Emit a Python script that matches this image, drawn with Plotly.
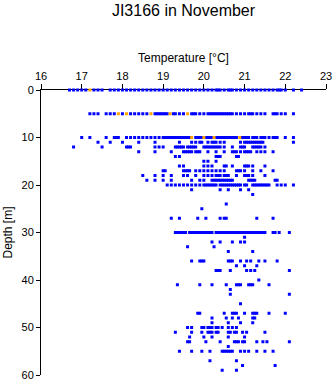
import plotly.graph_objects as go

# Temperature readings (°C) per depth (m)
t_d00 = [16.7, 16.8, 16.9, 17.0, 17.1, 17.3, 17.4, 17.5, 17.7, 17.8, 17.9, 18.0, 18.1, 18.2, 18.3, 18.4,
         18.5, 18.6, 18.7, 18.8, 18.9, 19.0, 19.1, 19.2, 19.3, 19.4, 19.5, 19.6, 19.7, 19.8, 19.9, 20.0,
         20.1, 20.2, 20.3, 20.35, 20.4, 20.5, 20.6, 20.65, 20.7, 20.8, 20.9, 21.0, 21.1, 21.2, 21.3, 21.4,
         21.5, 21.6, 21.7, 21.8, 21.85, 21.9, 22.0, 22.2, 22.4]
t_d05 = [17.2, 17.3, 17.4, 17.6, 17.7, 17.8, 18.0, 18.2, 18.3, 18.4, 18.5, 18.6, 18.8, 18.85, 18.9, 18.95,
         19.0, 19.05, 19.1, 19.25, 19.3, 19.4, 19.5, 19.7, 19.75, 19.8, 19.9, 20.0, 20.1, 20.15, 20.2, 20.25,
         20.3, 20.35, 20.4, 20.45, 20.5, 20.55, 20.6, 20.65, 20.7, 20.8, 20.9, 21.0, 21.1, 21.15, 21.2, 21.3,
         21.4, 21.5, 21.7, 21.75, 21.8, 21.9, 22.0, 22.2]
t_d10 = [17.0, 17.2, 17.6, 17.8, 17.85, 17.9, 18.1, 18.2, 18.3, 18.4, 18.5, 18.6, 18.7, 18.8, 18.9, 19.0,
         19.05, 19.1, 19.15, 19.2, 19.25, 19.3, 19.35, 19.4, 19.45, 19.5, 19.55, 19.6, 19.65, 19.8, 19.85,
         19.9, 19.95, 20.05, 20.1, 20.15, 20.2, 20.3, 20.35, 20.4, 20.45, 20.5, 20.55, 20.6, 20.65, 20.7,
         20.75, 20.8, 20.95, 21.0, 21.05, 21.1, 21.2, 21.25, 21.3, 21.4, 21.45, 21.5, 21.6, 21.7, 21.75,
         21.8, 22.0, 22.2]
t_d11 = [17.4, 17.7, 18.0, 18.4, 18.8, 19.4, 19.7, 19.8, 19.9, 19.95, 20.1, 20.2, 20.25, 20.3, 20.4, 20.5,
         20.9, 21.0, 21.05, 21.1, 21.15, 21.2, 21.25, 21.3, 21.35, 21.4, 21.45, 22.2]
t_d12 = [16.8, 17.5, 18.1, 18.15, 18.2, 18.8, 18.9, 19.0, 19.3, 19.35, 19.4, 19.45, 19.5, 19.6, 19.65,
         19.7, 19.75, 19.8, 20.0, 20.05, 20.1, 20.15, 20.2, 20.25, 20.3, 20.35, 20.4, 20.5, 20.7, 20.9,
         20.95, 21.0, 21.2, 21.25, 21.3, 21.35, 21.4, 21.5]
t_d13 = [18.4, 18.8, 19.2, 19.5, 19.55, 19.6, 19.65, 19.7, 19.8, 19.85, 19.9, 20.1, 20.3, 20.5, 20.7,
         20.75, 20.8, 20.9, 21.0, 21.05, 21.1, 21.15, 21.3, 21.4, 21.5, 21.7]
t_d14 = [19.3, 19.4, 20.3, 20.35, 20.4, 20.8, 20.85]
t_d15 = [20.0, 20.1, 20.3]
t_d16 = [19.4, 19.5, 20.0, 20.1, 20.2, 20.5, 20.55, 20.7, 21.0, 21.05, 21.1, 21.2, 21.5]
t_d17 = [19.0, 19.05, 19.5, 19.55, 19.6, 19.65, 19.8, 19.9, 20.0, 20.1, 20.2, 20.3, 20.4, 20.5, 20.8,
         20.85, 20.9, 21.0, 21.2, 21.4, 21.7]
t_d18 = [18.5, 18.8, 19.0, 19.2, 19.5, 19.6, 19.8, 20.0, 20.1, 20.2, 20.3, 20.35, 20.4, 20.5, 20.55,
         20.6, 20.8, 21.0, 21.05, 21.1, 21.2, 21.5]
t_d19 = [18.6, 18.8, 19.0, 19.2, 19.7, 19.9, 20.0, 20.2, 20.25, 20.3, 20.35, 20.4, 20.45, 20.5, 20.55,
         20.6, 20.65, 20.7, 21.1, 21.15, 21.2, 21.25, 21.75, 21.8]
t_d20 = [19.1, 19.2, 19.3, 19.4, 19.5, 19.6, 19.7, 19.8, 19.9, 20.0, 20.05, 20.1, 20.15, 20.2, 20.25,
         20.3, 20.4, 20.45, 20.5, 20.55, 20.6, 20.65, 20.7, 20.75, 20.8, 20.85, 20.9, 21.0, 21.05, 21.2,
         21.25, 21.3, 21.35, 21.4, 21.45, 21.5, 21.55, 21.6, 21.8, 21.9, 22.0, 22.2]
t_d21 = [19.7, 20.4, 20.6, 20.9, 21.1]
t_d22 = [21.2]
t_d24 = [20.55]
t_d25 = [19.95]
t_d27 = [19.2, 19.4, 19.85, 20.05, 20.4, 20.5, 20.55, 21.3, 21.7]
t_d30 = [19.3, 19.35, 19.4, 19.45, 19.5, 19.55, 19.65, 19.7, 19.75, 19.8, 19.85, 19.9, 19.95, 20.0,
         20.05, 20.1, 20.15, 20.2, 20.3, 20.35, 20.4, 20.45, 20.5, 20.55, 20.6, 20.65, 20.7, 20.75, 20.8,
         20.85, 20.9, 20.95, 21.0, 21.05, 21.1, 21.15, 21.2, 21.25, 21.3, 21.35, 21.4, 21.45, 21.5, 21.7,
         21.75, 21.85, 22.1]
t_d31 = [21.0]
t_d32 = [20.2, 20.4, 20.7, 20.9, 21.0]
t_d33 = [19.6, 20.25]
t_d34 = [20.6, 21.2]
t_d36 = [19.7, 19.9, 19.95, 20.0, 20.6, 20.65, 20.7, 20.9, 21.05, 21.15, 21.35, 21.5, 21.8]
t_d37 = [20.8, 21.0, 21.3]
t_d38 = [20.3, 20.35, 20.4, 20.65, 21.05, 21.15, 21.25, 22.1]
t_d40 = [21.35]
t_d41 = [19.35, 19.9, 20.2, 20.55, 20.8, 20.85, 20.9, 21.1, 21.15, 21.2, 21.6]
t_d42 = [20.65]
t_d43 = [20.65, 22.1]
t_d45 = [20.9]
t_d47 = [19.85, 19.9, 20.5, 20.7, 20.75, 20.8, 21.0, 21.2, 21.25, 21.3, 21.6, 22.0]
t_d48 = [20.2, 20.55, 20.7, 20.85, 21.2, 21.25]
t_d49 = [20.2, 20.6, 20.9, 21.2]
t_d50 = [19.6, 19.7, 19.95, 20.0, 20.1, 20.15, 20.2, 20.3, 20.35, 20.45, 20.6, 20.7, 20.8]
t_d51 = [19.3, 19.7, 19.95, 20.1, 20.15, 20.2, 20.3, 20.35, 20.6, 20.65, 20.75, 20.8, 20.95, 21.05, 21.5]
t_d52 = [19.65, 20.0, 20.2, 20.6, 21.0]
t_d53 = [19.6, 19.65, 20.05, 20.4, 20.75, 20.8, 20.85, 20.95, 21.0, 21.3, 21.45, 21.55, 22.1]
t_d54 = [20.6]
t_d55 = [19.4, 19.7, 19.95, 20.15, 20.45, 20.5, 20.55, 20.6, 20.65, 20.7, 20.9, 21.0, 21.1, 21.3, 21.5, 21.7]
t_d57 = [20.15, 20.8]
t_d58 = [20.95, 21.75]
t_d59 = [20.45, 20.8]

# Highlighted (orange) readings
orange_depths = [0, 5, 5, 5, 5, 5, 10, 10, 10, 10]
orange_temps = [17.2, 17.9, 18.1, 18.7, 19.17, 19.6, 19.7, 20.0, 20.25, 20.88]

depth_rows = [
    (0, t_d00), (5, t_d05), (10, t_d10), (11, t_d11), (12, t_d12), (13, t_d13), (14, t_d14),
    (15, t_d15), (16, t_d16), (17, t_d17), (18, t_d18), (19, t_d19), (20, t_d20), (21, t_d21),
    (22, t_d22), (24, t_d24), (25, t_d25), (27, t_d27), (30, t_d30), (31, t_d31), (32, t_d32),
    (33, t_d33), (34, t_d34), (36, t_d36), (37, t_d37), (38, t_d38), (40, t_d40), (41, t_d41),
    (42, t_d42), (43, t_d43), (45, t_d45), (47, t_d47), (48, t_d48), (49, t_d49), (50, t_d50),
    (51, t_d51), (52, t_d52), (53, t_d53), (54, t_d54), (55, t_d55), (57, t_d57), (58, t_d58),
    (59, t_d59),
]

bx, by = [], []
for d, temps in depth_rows:
    for t in temps:
        bx.append(t)
        by.append(d)

FONT = "Liberation Sans, Arial, Helvetica, sans-serif"

fig = go.Figure()
fig.add_trace(go.Scatter(x=bx, y=by, mode="markers", cliponaxis=False,
                         marker=dict(symbol="square", size=3, color="#0000FF", line=dict(width=0)),
                         showlegend=False))
fig.add_trace(go.Scatter(x=orange_temps, y=orange_depths, mode="markers", cliponaxis=False,
                         marker=dict(symbol="square", size=3, color="#FFA500", line=dict(width=0)),
                         showlegend=False))

fig.update_layout(
    width=335, height=384,
    margin=dict(l=41, r=9, t=90, b=9, pad=0, autoexpand=False),
    paper_bgcolor="white", plot_bgcolor="white",
    font=dict(family=FONT, color="black", size=11),
    title=dict(text="JI3166 in November", x=0.5, xref="paper", xanchor="center",
               y=1 - 10 / 384, yref="container", yanchor="middle",
               font=dict(size=16, color="black", family=FONT), automargin=False),
    xaxis=dict(side="top", range=[16, 23], tick0=16, dtick=1, ticks="outside", ticklen=5,
               tickwidth=1, tickcolor="black", showline=True, linecolor="black", linewidth=1,
               showgrid=False, zeroline=False, layer="below traces", automargin=False,
               title=dict(text="Temperature [°C]", font=dict(size=12), standoff=4),
               tickfont=dict(size=11)),
    yaxis=dict(range=[60, 0], tick0=0, dtick=10, ticks="outside", ticklen=4, tickwidth=1,
               tickcolor="black", showline=True, linecolor="black", linewidth=1,
               showgrid=False, zeroline=False, layer="below traces", automargin=False,
               title=dict(text="Depth [m]", font=dict(size=12), standoff=6),
               tickfont=dict(size=11)),
)

fig.write_html("out.html")
